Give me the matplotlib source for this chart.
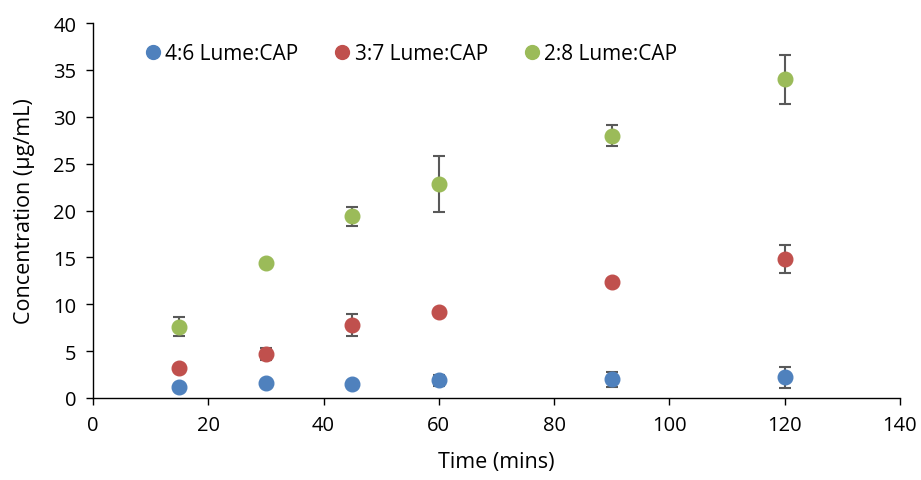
import numpy as np
import matplotlib
matplotlib.use("Agg")
import matplotlib.pyplot as plt

plt.rcParams['font.family'] = ['Open Sans', 'DejaVu Sans']

# sampling times (mins)
time = [15, 30, 45, 60, 90, 120]

# released concentration (ug/mL) and standard deviations per ratio
conc_46 = [1.2, 1.6, 1.5, 1.9, 2.0, 2.2]
err_46 = [0.2, 0.3, 0.3, 0.6, 0.8, 1.1]
conc_37 = [3.2, 4.7, 7.8, 9.2, 12.4, 14.8]
err_37 = [0.3, 0.6, 1.2, 0.3, 0.3, 1.5]
conc_28 = [7.6, 14.4, 19.4, 22.8, 28.0, 34.0]
err_28 = [1.0, 0.3, 1.0, 3.0, 1.15, 2.6]

labels = ["4:6 Lume:CAP", "3:7 Lume:CAP", "2:8 Lume:CAP"]
colors = ["#4F81BD", "#C0504D", "#9BBB59"]

fig = plt.figure(figsize=(9.21, 4.81), dpi=100)
ax = fig.add_axes([0.101, 0.1705, 0.876, 0.7795])

for y, e, lab, c in zip([conc_46, conc_37, conc_28], [err_46, err_37, err_28],
                        labels, colors):
    ax.errorbar(time, y, yerr=e, fmt="none", ecolor="#595959",
                elinewidth=1.5, capsize=4.5, capthick=1.5, zorder=2)
    ax.plot(time, y, "o", color=c, markersize=10.5, label=lab, zorder=3)

ax.set_xlim(0, 140)
ax.set_ylim(0, 40)
ax.set_xticks(np.arange(0, 141, 20))
ax.set_yticks(np.arange(0, 41, 5))
ax.spines['top'].set_visible(False)
ax.spines['right'].set_visible(False)
for s in ['left', 'bottom']:
    ax.spines[s].set_color("#000000")
    ax.spines[s].set_linewidth(1.0)
ax.tick_params(direction="out", length=5, width=1.0, labelsize=14.5,
               colors="#000000")
ax.tick_params(axis='x', pad=7)
ax.tick_params(axis='y', pad=7)
ax.set_xlabel("Time (mins)", fontsize=15.5, labelpad=12)
ax.set_ylabel("Concentration (\u00b5g/mL)", fontsize=15.5, labelpad=13)

ax.legend(loc="upper left", bbox_to_anchor=(0.042, 0.997), ncol=3,
          frameon=False, fontsize=15, markerscale=0.95, handlelength=0.7,
          handletextpad=0.25, columnspacing=1.75)

fig.savefig("out.png", dpi=100)
